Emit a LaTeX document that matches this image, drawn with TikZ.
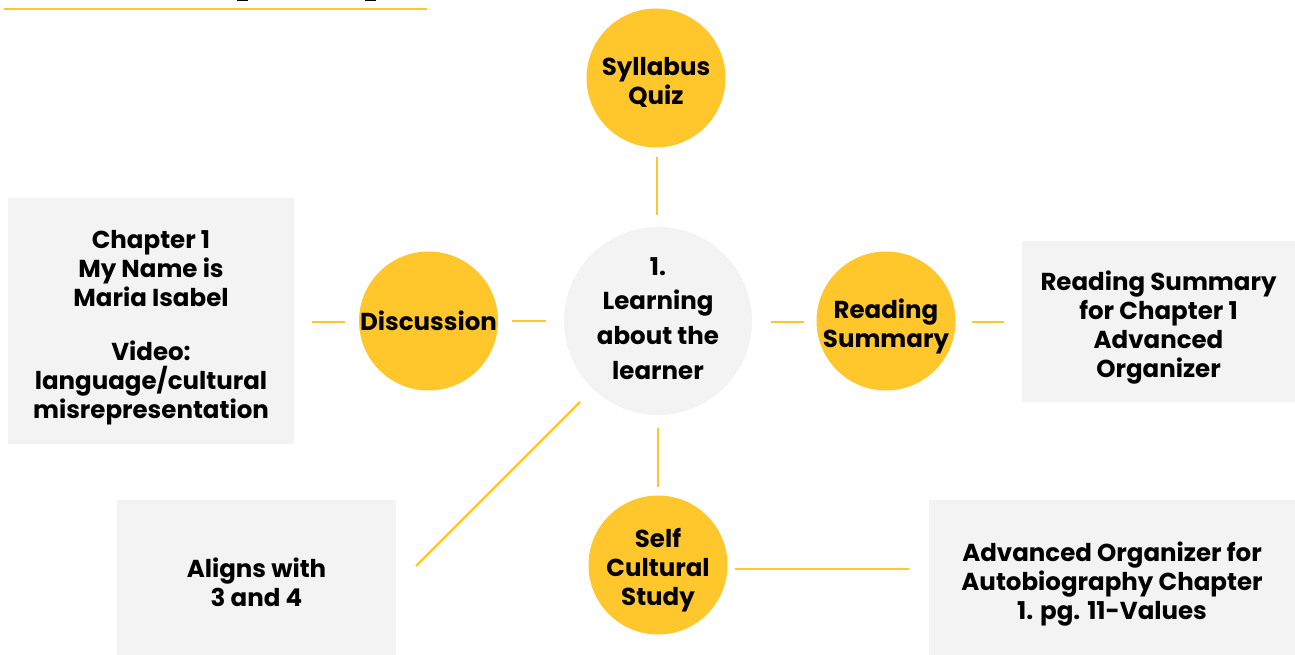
\documentclass[tikz,border=0pt]{standalone}
\usepackage{fontspec}
\setmainfont{Poppins}
\definecolor{myyellow}{HTML}{FFC72C}
\definecolor{mygray}{HTML}{F3F3F3}
\begin{document}
\begin{tikzpicture}[x=1pt,y=-1pt,
  ycirc/.style={circle,fill=myyellow,minimum size=139pt,inner sep=0pt},
  gcirc/.style={circle,fill=mygray,minimum size=188pt,inner sep=0pt},
  gbox/.style={fill=mygray,inner sep=0pt},
  txt/.style={inner sep=0pt,align=center,font=\bfseries\fontsize{24.5}{29}\selectfont},
  ctxt/.style={inner sep=0pt,align=center,font=\bfseries\fontsize{24.5}{34.7}\selectfont},
  conn/.style={draw=myyellow,line width=2.2pt}]
\useasboundingbox (0,0) rectangle (1295,655);
\draw[myyellow,line width=2.5pt] (4,9) -- (427,9);
\fill[black] (237,0) rectangle (248,1.5);
\fill[black] (365,0) rectangle (376,1.5);
% shapes
\node[ycirc] (sq) at (656,78) {};
\node[gcirc] (c) at (658,321) {};
\node[ycirc] (d) at (428.5,321) {};
\node[ycirc] (rs) at (886,321) {};
\node[ycirc] (sc) at (658,565) {};
\node[gbox,minimum width=286pt,minimum height=246pt] (lb) at (151,321) {};
\node[gbox,minimum width=273pt,minimum height=161pt] (rb) at (1158.5,321.5) {};
\node[gbox,minimum width=279pt,minimum height=155pt] (ab) at (256.5,577.5) {};
\node[gbox,minimum width=366pt,minimum height=155pt] (br) at (1112,577.5) {};
% texts
\node[txt] (sqt) at ([yshift=-4pt]sq.center) {Syllabus\\Quiz};
\node[ctxt] (ct) at ([yshift=2.5pt]c.center) {1.\\Learning\\about the\\learner};
\node[txt] (dt) at (d.center) {Discussion};
\node[txt] (rst) at ([yshift=-5pt]rs.center) {Reading\\Summary};
\node[txt] (sct) at ([yshift=-5.5pt]sc.center) {Self\\Cultural\\Study};
\node[txt] (lbt) at ([yshift=-7pt]lb.center) {Chapter 1\\My Name is\\Maria Isabel\\[25pt]Video:\\language/cultural\\misrepresentation};
\node[txt] (rbt) at ([yshift=-6pt]rb.center) {Reading Summary\\for Chapter 1\\Advanced\\Organizer};
\node[txt] (abt) at ([yshift=-5pt]ab.center) {Aligns with\\3 and 4};
\node[txt] (brt) at ([yshift=-6.5pt]br.center) {Advanced Organizer for\\Autobiography Chapter\\1. pg. 11-Values};
% connectors
\coordinate (a1) at (657,157); \coordinate (a2) at (657,215);
\draw[conn] (a1) -- (a2);
\coordinate (b1) at (312,322); \coordinate (b2) at (345,322);
\draw[conn] (b1) -- (b2);
\coordinate (e1) at (512,321); \coordinate (e2) at (546,321);
\draw[conn] (e1) -- (e2);
\coordinate (f1) at (771,322); \coordinate (f2) at (804,322);
\draw[conn] (f1) -- (f2);
\coordinate (g1) at (972,322); \coordinate (g2) at (1004,322);
\draw[conn] (g1) -- (g2);
\coordinate (h1) at (658,428); \coordinate (h2) at (658,487);
\draw[conn] (h1) -- (h2);
\coordinate (i1) at (735,569); \coordinate (i2) at (909,569);
\draw[conn] (i1) -- (i2);
\coordinate (j1) at (580,402); \coordinate (j2) at (416,566);
\draw[conn] (j1) -- (j2);
\end{tikzpicture}
\end{document}
